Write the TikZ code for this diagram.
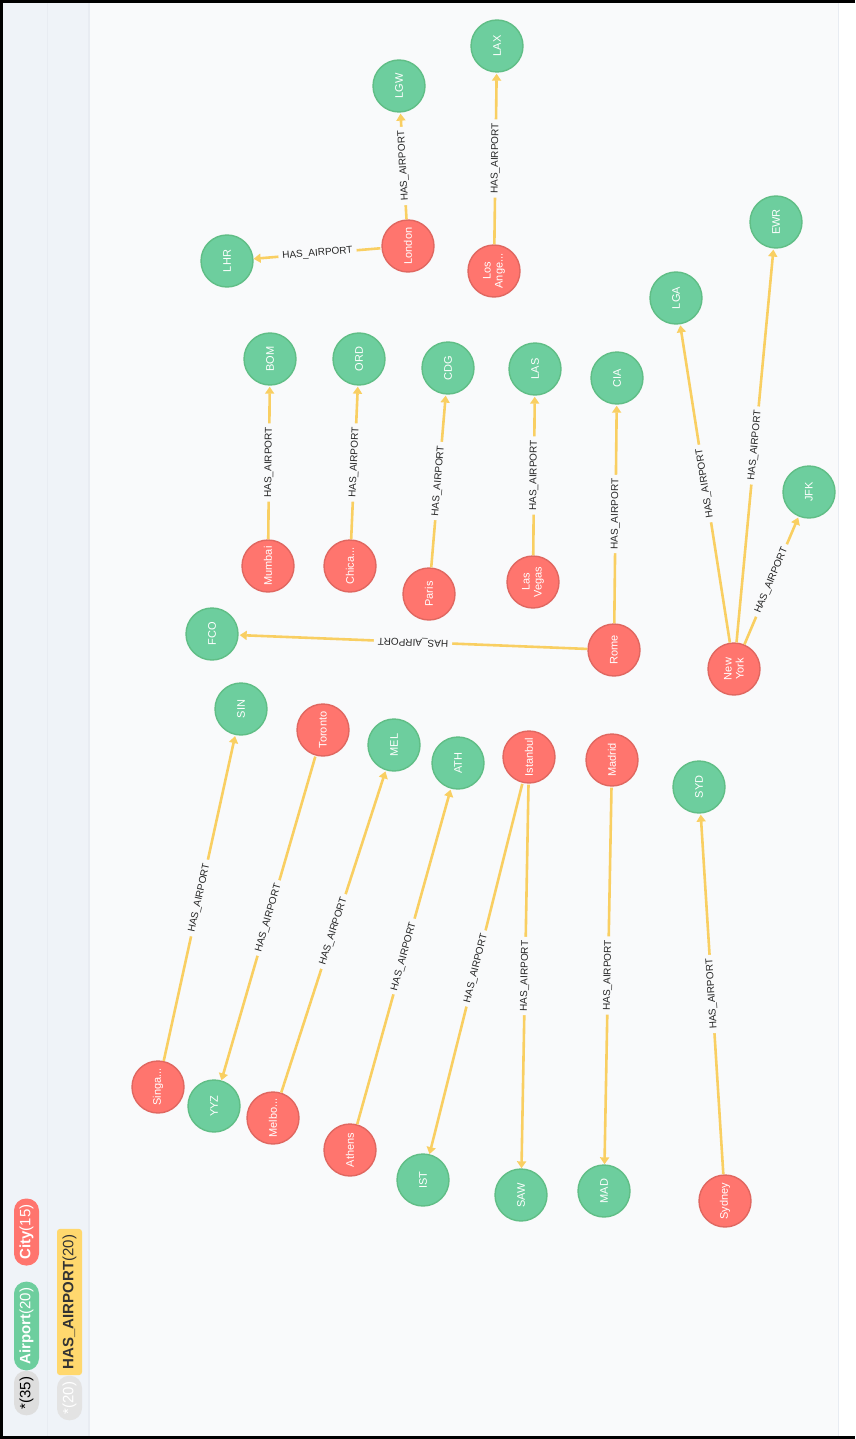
\documentclass[tikz,border=0pt]{standalone}
\usepackage{fontspec}
\setmainfont{Liberation Sans}
\usetikzlibrary{arrows.meta}
\definecolor{citycol}{HTML}{FF756E}
\definecolor{cityline}{HTML}{E06760}
\definecolor{portcol}{HTML}{6DCE9E}
\definecolor{portline}{HTML}{60BE86}
\definecolor{relcol}{HTML}{F9CF62}
\definecolor{canvas}{HTML}{F9FAFB}
\definecolor{panel}{HTML}{EFF3F8}
\definecolor{panelline}{HTML}{E8ECF2}
\definecolor{relpill}{HTML}{FFD86E}
\tikzset{
	x=1pt, y=-1pt, % pixel grid, y downwards
	bubble/.style={
			circle,
			minimum size=52pt,
			inner sep=0pt,
			line width=1.4pt,
			rotate=90,
			align=center,
			text=white,
			font=\fontsize{11}{12}\selectfont
		},
	city/.style={bubble, fill=citycol, draw=cityline},
	airport/.style={bubble, fill=portcol, draw=portline},
	link/.style={ % every HAS_AIRPORT edge
			draw=relcol,
			line width=2.6pt,
			shorten >=1pt,
			>={Triangle[length=7pt,width=9pt]}
		},
	lbl/.style={
			sloped,
			allow upside down,
			fill=canvas,
			inner sep=4pt,
			text=black!85,
			font=\fontsize{10}{10}\selectfont
		},
	pill/.style={
			rounded corners=12pt,
			rotate=90,
			minimum height=25pt,
			inner xsep=6pt,
			inner ysep=0pt,
			font=\fontsize{15}{15}\selectfont
		}
}
\begin{document}
\begin{tikzpicture}
	\useasboundingbox (0,0) rectangle (855,1439);
	% panels
	\fill[white] (0,0) rectangle (855,1439);
	\fill[panel] (3,3) rectangle (90,1436);
	\fill[canvas] (90,3) rectangle (838,1436);
	\draw[panelline, line width=1pt] (47.5,3) -- (47.5,1436);
	\draw[panelline, line width=1.5pt] (89,3) -- (89,1436);
	\draw[panelline, line width=1.5pt] (838.5,3) -- (838.5,1436);
	\draw[black, line width=3pt] (855,1.5) -- (1.5,1.5) -- (1.5,1437.5) -- (855,1437.5);

	% legend
	\node[pill, fill=black!13, text=black] (allnodes) at (26.5,1393) {*(35)};
	\node[pill, fill=portcol, text=white] (airportkey) at (26.5,1326) {\textbf{Airport}(20)};
	\node[pill, fill=citycol, text=white] (citykey) at (26.5,1232) {\textbf{City}(15)};
	\node[pill, fill=black!11, text=white] (allrels) at (69.5,1398) {*(20)};
	\node[pill, rounded corners=3pt, fill=relpill, text=black!80] (relkey) at (69.5,1302) {\textbf{HAS\_AIRPORT}(20)};

	% nodes
	\node[airport] (LAX) at (497,46) {LAX};
	\node[airport] (LGW) at (399,86) {LGW};
	\node[city] (London) at (408,246) {London};
	\node[airport] (LHR) at (227,261) {LHR};
	\node[city] (LosAngeles) at (494,271) {Los\\Ange...};
	\node[airport] (BOM) at (270,359) {BOM};
	\node[airport] (ORD) at (359,359) {ORD};
	\node[airport] (CDG) at (448,368) {CDG};
	\node[airport] (LAS) at (535,369) {LAS};
	\node[airport] (CIA) at (617,378) {CIA};
	\node[airport] (LGA) at (676,298) {LGA};
	\node[airport] (EWR) at (776,222) {EWR};
	\node[airport] (JFK) at (809,492) {JFK};
	\node[city] (Mumbai) at (268,566) {Mumbai};
	\node[city] (Chicago) at (350,566) {Chica...};
	\node[city] (Paris) at (429,594) {Paris};
	\node[city] (LasVegas) at (533,582) {Las\\Vegas};
	\node[city] (Rome) at (614,650) {Rome};
	\node[airport] (FCO) at (212,634) {FCO};
	\node[city] (NewYork) at (734,669) {New\\York};
	\node[airport] (SIN) at (241,709) {SIN};
	\node[city] (Toronto) at (323,730) {Toronto};
	\node[airport] (MEL) at (394,745) {MEL};
	\node[airport] (ATH) at (458,763) {ATH};
	\node[city] (Istanbul) at (529,757) {Istanbul};
	\node[city] (Madrid) at (612,760) {Madrid};
	\node[airport] (SYD) at (699,787) {SYD};
	\node[city] (Singapore) at (158,1087) {Singa...};
	\node[airport] (YYZ) at (214,1106) {YYZ};
	\node[city] (Melbourne) at (273,1118) {Melbo...};
	\node[city] (Athens) at (350,1150) {Athens};
	\node[airport] (IST) at (423,1180) {IST};
	\node[airport] (SAW) at (521,1195) {SAW};
	\node[airport] (MAD) at (604,1191) {MAD};
	\node[city] (Sydney) at (725,1201) {Sydney};

	% edges, labels read from the lower end upwards
	\draw[link,<-] (LHR) -- node[lbl] {HAS\_AIRPORT} (London);
	\draw[link,->] (London) -- node[lbl] {HAS\_AIRPORT} (LGW);
	\draw[link,->] (LosAngeles) -- node[lbl] {HAS\_AIRPORT} (LAX);
	\draw[link,->] (Mumbai) -- node[lbl] {HAS\_AIRPORT} (BOM);
	\draw[link,->] (Chicago) -- node[lbl] {HAS\_AIRPORT} (ORD);
	\draw[link,->] (Paris) -- node[lbl] {HAS\_AIRPORT} (CDG);
	\draw[link,->] (LasVegas) -- node[lbl] {HAS\_AIRPORT} (LAS);
	\draw[link,->] (Rome) -- node[lbl] {HAS\_AIRPORT} (CIA);
	\draw[link,->] (Rome) -- node[lbl] {HAS\_AIRPORT} (FCO);
	\draw[link,->] (NewYork) -- node[lbl] {HAS\_AIRPORT} (LGA);
	\draw[link,->] (NewYork) -- node[lbl] {HAS\_AIRPORT} (EWR);
	\draw[link,->] (NewYork) -- node[lbl] {HAS\_AIRPORT} (JFK);
	\draw[link,->] (Singapore) -- node[lbl] {HAS\_AIRPORT} (SIN);
	\draw[link,<-] (YYZ) -- node[lbl] {HAS\_AIRPORT} (Toronto);
	\draw[link,->] (Melbourne) -- node[lbl] {HAS\_AIRPORT} (MEL);
	\draw[link,->] (Athens) -- node[lbl] {HAS\_AIRPORT} (ATH);
	\draw[link,<-] (IST) -- node[lbl] {HAS\_AIRPORT} (Istanbul);
	\draw[link,<-] (SAW) -- node[lbl] {HAS\_AIRPORT} (Istanbul);
	\draw[link,<-] (MAD) -- node[lbl] {HAS\_AIRPORT} (Madrid);
	\draw[link,->] (Sydney) -- node[lbl] {HAS\_AIRPORT} (SYD);
\end{tikzpicture}
\end{document}
